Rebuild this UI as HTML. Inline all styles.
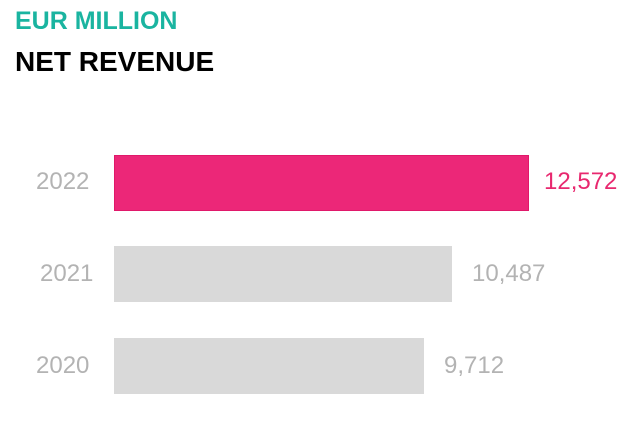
<!DOCTYPE html>
<html><head><style>
body{margin:0;width:624px;height:421px;background:#fff;position:relative;overflow:hidden;font-family:"Liberation Sans",Arial,sans-serif}
.t{position:absolute;font-weight:bold;white-space:nowrap}
.bar{position:absolute;left:114px;height:56px}
.lab{position:absolute;font-size:24px;color:#b3b3b3;line-height:28px;white-space:nowrap}
</style></head><body>
<div class="t" style="left:15px;top:7px;font-size:25px;color:#1ab4a0;line-height:28px">EUR MILLION</div>
<div class="t" style="left:15px;top:46px;font-size:28px;color:#000;line-height:32px">NET REVENUE</div>

<div class="lab" style="left:36px;top:168px">2022</div>
<div class="bar" style="top:155px;width:415px;background:#ec2778;border:1px solid #e0186a;box-sizing:border-box"></div>
<div class="lab" style="left:544px;top:168px;color:#e8286f">12,572</div>

<div class="lab" style="left:40px;top:260px">2021</div>
<div class="bar" style="top:246px;width:338px;background:#d9d9d9"></div>
<div class="lab" style="left:472px;top:260px">10,487</div>

<div class="lab" style="left:36px;top:352px">2020</div>
<div class="bar" style="top:338px;width:310px;background:#d9d9d9"></div>
<div class="lab" style="left:444px;top:352px">9,712</div>
</body></html>
